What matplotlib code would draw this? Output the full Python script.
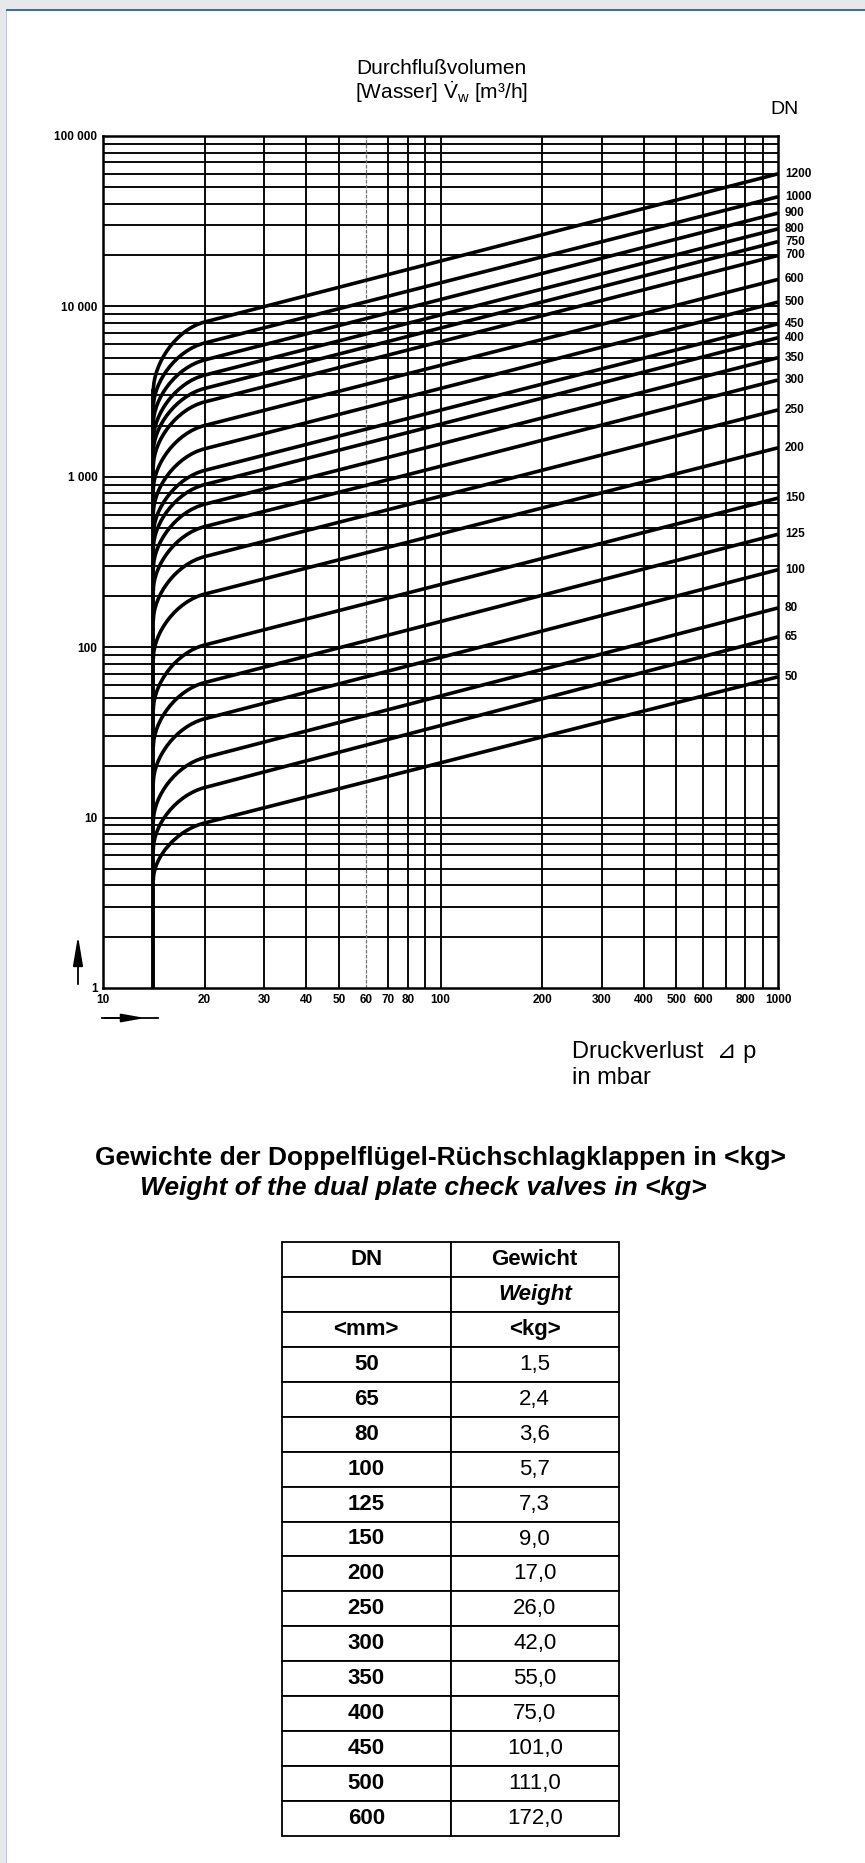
import matplotlib
matplotlib.use("Agg")
import matplotlib.pyplot as plt
from matplotlib.path import Path
from matplotlib.patches import PathPatch, Rectangle
from matplotlib.lines import Line2D
from matplotlib.ticker import NullLocator
import numpy as np

W, H = 865, 1863

# Kennlinien: DN, Beginn der Kurve bei 14 mbar, Wert bei 20 mbar, Wert bei 1000 mbar
dn = [50, 65, 80, 100, 125, 150, 200, 250, 300, 350,
      400, 450, 500, 600, 700, 750, 800, 900, 1000, 1200]
q_start = [4.3, 6.5, 9.5, 16, 26, 43, 86, 143, 215, 290,
           380, 460, 610, 840, 1150, 1400, 1650, 2050, 2550, 3200]
q_20 = [9.3, 15, 22.5, 38, 62, 103, 205, 340, 510, 690,
        900, 1090, 1460, 2000, 2750, 3300, 3950, 4850, 6100, 8100]
q_1000 = [67, 115, 170, 285, 460, 750, 1480, 2470, 3700, 5000,
          6550, 7900, 10600, 14400, 19900, 24000, 28500, 35300, 44000, 60000]
dp_open = 14.1     # mbar, senkrechte Linie
q_open_top = 3200  # Ende der senkrechten Linie

x_ticks = [10, 20, 30, 40, 50, 60, 70, 80, 100, 200, 300, 400, 500, 600, 800, 1000]
x_grid = [20, 30, 40, 50, 70, 80, 90, 100, 200, 300, 400, 500, 600, 700, 800, 900]
y_ticks = [1, 10, 100, 1000, 10000, 100000]
y_ticklabels = ["1", "10", "100", "1 000", "10 000", "100 000"]

# Gewichtstabelle
tab_dn = ["50", "65", "80", "100", "125", "150", "200", "250", "300", "350",
          "400", "450", "500", "600"]
tab_kg = ["1,5", "2,4", "3,6", "5,7", "7,3", "9,0", "17,0", "26,0", "42,0", "55,0",
          "75,0", "101,0", "111,0", "172,0"]

plt.rcParams['font.family'] = ['Liberation Sans', 'DejaVu Sans']
plt.rcParams['mathtext.fontset'] = 'custom'
plt.rcParams['mathtext.rm'] = 'Liberation Sans'
plt.rcParams['mathtext.it'] = 'Liberation Sans:italic'
narrow = ['Liberation Sans Narrow', 'Liberation Sans', 'DejaVu Sans']


def fx(x):
    return x / W


def fy(y):
    return 1 - y / H


fig = plt.figure(figsize=(W / 100, H / 100), dpi=100)
fig.patch.set_facecolor('white')

# Seitenrahmen
fig.add_artist(Rectangle((0, fy(9)), 1, 9 / H, transform=fig.transFigure, color='#e6e8eb', lw=0))
fig.add_artist(Rectangle((0, fy(11)), 1, 2 / H, transform=fig.transFigure, color='#3f6fa6', lw=0))
fig.add_artist(Rectangle((0, 0), 6 / W, 1 - 9 / H, transform=fig.transFigure, color='#e6e8eb', lw=0))
fig.add_artist(Rectangle((6 / W, 0), 1.5 / W, 1 - 11 / H, transform=fig.transFigure, color='#b8c6d6', lw=0))

ax = fig.add_axes([fx(103), fy(988), 675 / W, 852 / H])
ax.set_xscale('log')
ax.set_yscale('log')
ax.set_xlim(10, 1000)
ax.set_ylim(1, 100000)

# Gitter
for d in range(5):
    for k in range(1, 10):
        y = k * 10 ** d
        if 1 < y < 100000:
            ax.axhline(y, color='black', lw=1.35, zorder=1)
for x in x_grid:
    ax.axvline(x, color='black', lw=1.35, zorder=1)
ax.axvline(60, color='0.45', lw=0.9, ls=(0, (3, 1)), zorder=1)
ax.plot([dp_open, dp_open], [1, q_open_top], color='black', lw=2.8, zorder=3)

# Kennlinien
a, b = 0.4, 0.55
for qs, q2, qe in zip(q_start, q_20, q_1000):
    lx0, lx3 = np.log10(dp_open), np.log10(20)
    ly0, ly3 = np.log10(qs), np.log10(q2)
    m = (np.log10(qe) - ly3) / (np.log10(1000) - lx3)
    dx = lx3 - lx0
    p1 = (dp_open, 10 ** (ly0 + a * (ly3 - ly0)))
    p2 = (10 ** (lx3 - b * dx), 10 ** (ly3 - b * dx * m))
    verts = [(dp_open, qs), p1, p2, (20, q2), (1000, qe)]
    codes = [Path.MOVETO, Path.CURVE4, Path.CURVE4, Path.CURVE4, Path.LINETO]
    ax.add_patch(PathPatch(Path(verts, codes), fill=False, ec='black', lw=2.6, zorder=4))

for lbl, qe in zip(dn, q_1000):
    ax.annotate(str(lbl), xy=(1000, qe), xytext=(7, 0), textcoords='offset pixels',
                ha='left', va='center', fontsize=8.5, fontweight='bold',
                family=narrow, annotation_clip=False)

ax.set_xlim(10, 1000)
ax.set_ylim(1, 100000)
ax.set_xticks(x_ticks)
ax.set_xticklabels([str(v) for v in x_ticks], fontsize=8.5, fontweight='bold', family=narrow)
ax.set_yticks(y_ticks)
ax.set_yticklabels(y_ticklabels, fontsize=8.5, fontweight='bold', family=narrow)
ax.xaxis.set_minor_locator(NullLocator())
ax.yaxis.set_minor_locator(NullLocator())
ax.tick_params(length=0, pad=4)
for s in ax.spines.values():
    s.set_linewidth(1.8)

# Beschriftungen Diagramm
fig.text(fx(441), fy(68), "Durchflußvolumen", ha='center', va='center', fontsize=15)
fig.text(fx(441), fy(92), r"[Wasser] $\dot{\mathrm{V}}_\mathrm{w}$ [m³/h]", ha='center', va='center', fontsize=15)
fig.text(fx(784), fy(110), "DN", ha='center', va='center', fontsize=14)
fig.text(fx(572), fy(1052), "Druckverlust  ⊿ p", ha='left', va='center', fontsize=17)
fig.text(fx(572), fy(1078), "in mbar", ha='left', va='center', fontsize=17)

# Pfeile
ax.annotate('', xy=(78, H - 933), xytext=(78, H - 987), xycoords='figure pixels',
            arrowprops=dict(arrowstyle='-|>,head_length=1.8,head_width=0.3', color='black', lw=1.3))
fig.add_artist(Line2D([fx(102), fx(158)], [fy(1018), fy(1018)], color='black', lw=1.3))
ax.annotate('', xy=(148, H - 1018), xytext=(102, H - 1018), xycoords='figure pixels',
            arrowprops=dict(arrowstyle='-|>,head_length=1.4,head_width=0.25', color='black', lw=1.3))

# Überschrift Tabelle
fig.text(fx(95), fy(1158), "Gewichte der Doppelflügel-Rüchschlagklappen in <kg>",
         ha='left', va='center', fontsize=19, fontweight='bold')
fig.text(fx(140), fy(1188), "Weight of the dual plate check valves in <kg>",
         ha='left', va='center', fontsize=19, fontweight='bold', style='italic')

# Tabelle
tax = fig.add_axes([fx(282), fy(1836), 337 / W, 594 / H])
tax.axis('off')
rows = [["DN", "Gewicht"], ["", "Weight"], ["<mm>", "<kg>"]] + [[d, k] for d, k in zip(tab_dn, tab_kg)]
tbl = tax.table(cellText=rows, cellLoc='center', bbox=[0, 0, 1, 1])
tbl.auto_set_font_size(False)
tbl.set_fontsize(16)
for (r, c), cell in tbl.get_celld().items():
    cell.set_linewidth(1.3)
    t = cell.get_text()
    if r < 3 or c == 0:
        t.set_fontweight('bold')
    if r == 1 and c == 1:
        t.set_fontstyle('italic')

fig.savefig("out.png", dpi=100)
